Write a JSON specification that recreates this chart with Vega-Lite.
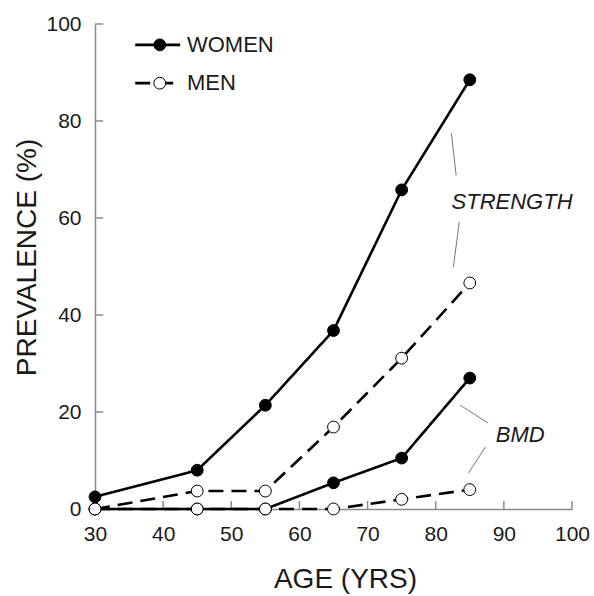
{
  "$schema": "https://vega.github.io/schema/vega-lite/v6.json",
  "autosize": {"type": "none"},
  "padding": {"left": 95, "top": 24, "right": 22, "bottom": 87},
  "width": 477,
  "height": 485,
  "background": "white",
  "config": {
    "view": {"stroke": null},
    "font": "Liberation Sans",
    "axis": {
      "grid": false,
      "domainColor": "#8a8a8a",
      "domainWidth": 1.5,
      "ticks": false,
      "labelFlush": false,
      "labelFont": "Liberation Sans",
      "labelFontSize": 21,
      "labelColor": "#1a1a1a",
      "titleFont": "Liberation Sans",
      "titleFontSize": 28,
      "titleFontWeight": "normal",
      "titleColor": "#1a1a1a"
    }
  },
  "datasets": {
    "series": [
      {"age": 30, "value": 2.5, "sex": "WOMEN", "measure": "STRENGTH"},
      {"age": 45, "value": 8.0, "sex": "WOMEN", "measure": "STRENGTH"},
      {"age": 55, "value": 21.4, "sex": "WOMEN", "measure": "STRENGTH"},
      {"age": 65, "value": 36.8, "sex": "WOMEN", "measure": "STRENGTH"},
      {"age": 75, "value": 65.8, "sex": "WOMEN", "measure": "STRENGTH"},
      {"age": 85, "value": 88.5, "sex": "WOMEN", "measure": "STRENGTH"},
      {"age": 30, "value": 0, "sex": "WOMEN", "measure": "BMD"},
      {"age": 45, "value": 0, "sex": "WOMEN", "measure": "BMD"},
      {"age": 55, "value": 0, "sex": "WOMEN", "measure": "BMD"},
      {"age": 65, "value": 5.4, "sex": "WOMEN", "measure": "BMD"},
      {"age": 75, "value": 10.5, "sex": "WOMEN", "measure": "BMD"},
      {"age": 85, "value": 27.0, "sex": "WOMEN", "measure": "BMD"},
      {"age": 30, "value": 0, "sex": "MEN", "measure": "STRENGTH"},
      {"age": 45, "value": 3.7, "sex": "MEN", "measure": "STRENGTH"},
      {"age": 55, "value": 3.7, "sex": "MEN", "measure": "STRENGTH"},
      {"age": 65, "value": 16.9, "sex": "MEN", "measure": "STRENGTH"},
      {"age": 75, "value": 31.1, "sex": "MEN", "measure": "STRENGTH"},
      {"age": 85, "value": 46.6, "sex": "MEN", "measure": "STRENGTH"},
      {"age": 30, "value": 0, "sex": "MEN", "measure": "BMD"},
      {"age": 45, "value": 0, "sex": "MEN", "measure": "BMD"},
      {"age": 55, "value": 0, "sex": "MEN", "measure": "BMD"},
      {"age": 65, "value": 0, "sex": "MEN", "measure": "BMD"},
      {"age": 75, "value": 2.0, "sex": "MEN", "measure": "BMD"},
      {"age": 85, "value": 4.0, "sex": "MEN", "measure": "BMD"}
    ],
    "xticks": [
      {"v": 40, "lo": 0, "hi": 1.65},
      {"v": 50, "lo": 0, "hi": 1.65},
      {"v": 60, "lo": 0, "hi": 1.65},
      {"v": 70, "lo": 0, "hi": 1.65},
      {"v": 80, "lo": 0, "hi": 1.65},
      {"v": 90, "lo": 0, "hi": 1.65},
      {"v": 100, "lo": 0, "hi": 1.65}
    ],
    "yticks": [
      {"v": 20, "lo": 30, "hi": 31.2},
      {"v": 40, "lo": 30, "hi": 31.2},
      {"v": 60, "lo": 30, "hi": 31.2},
      {"v": 80, "lo": 30, "hi": 31.2},
      {"v": 100, "lo": 30, "hi": 31.2}
    ],
    "leaders": [
      {"x": 82.3, "y": 77.5, "x2": 83.0, "y2": 68.8},
      {"x": 83.45, "y": 59.2, "x2": 82.6, "y2": 49.9},
      {"x": 83.6, "y": 21.4, "x2": 87.7, "y2": 17.7},
      {"x": 87.3, "y": 12.8, "x2": 84.8, "y2": 7.4}
    ],
    "labels": [
      {"x": 91.2, "y": 63.3, "text": "STRENGTH"},
      {"x": 92.4, "y": 15.3, "text": "BMD"}
    ],
    "legendLines": [
      {"x": 35.9, "x2": 42.5, "y": 95.7, "sex": "WOMEN"},
      {"x": 35.9, "x2": 42.5, "y": 87.8, "sex": "MEN"}
    ],
    "legendPoints": [
      {"x": 39.5, "y": 95.7, "sex": "WOMEN"},
      {"x": 39.5, "y": 87.8, "sex": "MEN"}
    ],
    "legendText": [
      {"x": 43.5, "y": 95.7, "text": "WOMEN"},
      {"x": 43.5, "y": 87.8, "text": "MEN"}
    ]
  },
  "layer": [
    {
      "data": {"name": "xticks"},
      "mark": {"type": "rule", "color": "#8a8a8a", "strokeWidth": 1.5},
      "encoding": {
        "x": {
          "field": "v", "type": "quantitative",
          "scale": {"domain": [30, 100], "nice": false, "zero": false},
          "axis": {"values": [30, 40, 50, 60, 70, 80, 90, 100], "title": "AGE (YRS)", "labelPadding": 14, "titlePadding": 21, "titleX": 250}
        },
        "y": {
          "field": "lo", "type": "quantitative",
          "scale": {"domain": [0, 100], "nice": false},
          "axis": {"values": [0, 20, 40, 60, 80, 100], "title": "PREVALENCE (%)", "labelPadding": 14, "titlePadding": 4, "titleY": 233}
        },
        "y2": {"field": "hi"}
      }
    },
    {
      "data": {"name": "yticks"},
      "mark": {"type": "rule", "color": "#8a8a8a", "strokeWidth": 1.5},
      "encoding": {
        "y": {"field": "v", "type": "quantitative"},
        "x": {"field": "lo", "type": "quantitative"},
        "x2": {"field": "hi"}
      }
    },
    {
      "data": {"name": "series"},
      "mark": {"type": "line", "color": "black", "strokeWidth": 2.6},
      "encoding": {
        "x": {"field": "age", "type": "quantitative"},
        "y": {"field": "value", "type": "quantitative"},
        "strokeDash": {
          "field": "sex", "type": "nominal",
          "scale": {"domain": ["WOMEN", "MEN"], "range": [[1, 0], [15, 8]]},
          "legend": null
        },
        "detail": {"field": "measure"}
      }
    },
    {
      "data": {"name": "series"},
      "mark": {"type": "point", "shape": "circle", "filled": true, "size": 140, "stroke": "black", "strokeWidth": 1, "opacity": 1},
      "encoding": {
        "x": {"field": "age", "type": "quantitative"},
        "y": {"field": "value", "type": "quantitative"},
        "fill": {
          "field": "sex", "type": "nominal",
          "scale": {"domain": ["WOMEN", "MEN"], "range": ["black", "white"]},
          "legend": null
        }
      }
    },
    {
      "data": {"name": "leaders"},
      "mark": {"type": "rule", "color": "#777777", "strokeWidth": 1},
      "encoding": {
        "x": {"field": "x", "type": "quantitative"},
        "y": {"field": "y", "type": "quantitative"},
        "x2": {"field": "x2"},
        "y2": {"field": "y2"}
      }
    },
    {
      "data": {"name": "labels"},
      "mark": {"type": "text", "font": "Liberation Sans", "fontSize": 22, "fontStyle": "italic", "align": "center", "baseline": "middle", "color": "#1a1a1a"},
      "encoding": {
        "x": {"field": "x", "type": "quantitative"},
        "y": {"field": "y", "type": "quantitative"},
        "text": {"field": "text"}
      }
    },
    {
      "data": {"name": "legendLines"},
      "mark": {"type": "rule", "color": "black", "strokeWidth": 2.6},
      "encoding": {
        "x": {"field": "x", "type": "quantitative"},
        "x2": {"field": "x2"},
        "y": {"field": "y", "type": "quantitative"},
        "strokeDash": {"field": "sex", "type": "nominal", "legend": null}
      }
    },
    {
      "data": {"name": "legendPoints"},
      "mark": {"type": "point", "shape": "circle", "filled": true, "size": 140, "stroke": "black", "strokeWidth": 1, "opacity": 1},
      "encoding": {
        "x": {"field": "x", "type": "quantitative"},
        "y": {"field": "y", "type": "quantitative"},
        "fill": {"field": "sex", "type": "nominal", "legend": null}
      }
    },
    {
      "data": {"name": "legendText"},
      "mark": {"type": "text", "font": "Liberation Sans", "fontSize": 22, "align": "left", "baseline": "middle", "color": "#1a1a1a"},
      "encoding": {
        "x": {"field": "x", "type": "quantitative"},
        "y": {"field": "y", "type": "quantitative"},
        "text": {"field": "text"}
      }
    }
  ]
}
